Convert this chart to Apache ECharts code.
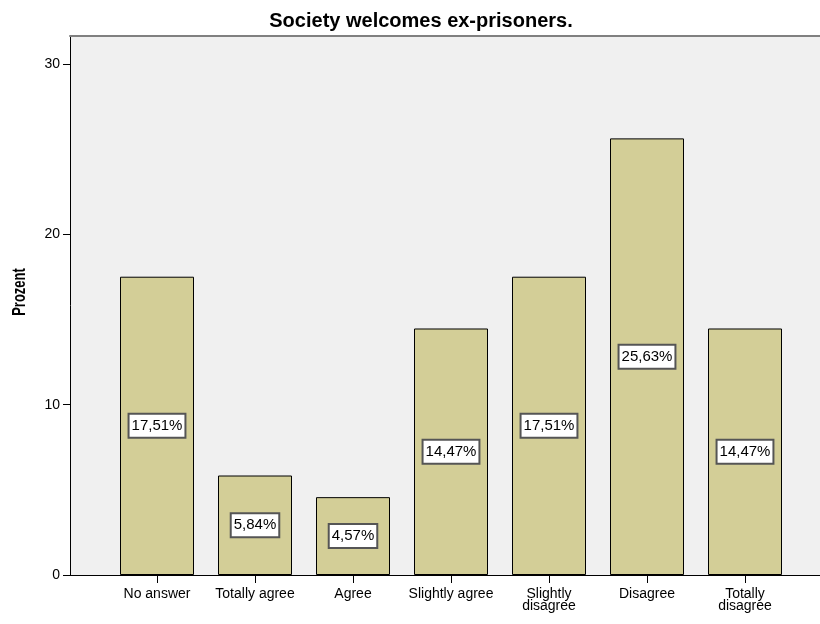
<!DOCTYPE html>
<html>
<head>
<meta charset="utf-8">
<script src="https://cdn.jsdelivr.net/npm/echarts@6/dist/echarts.min.js"></script>
<style>
html,body{margin:0;padding:0;background:#fff;}
#chart{width:820px;height:624px;}
</style>
</head>
<body>
<div id="chart"></div>
<script>
const titleText = 'Society welcomes ex-prisoners.';
const yAxisTitle = 'Prozent';
const categories = ['No answer', 'Totally agree', 'Agree', 'Slightly agree', 'Slightly\ndisagree', 'Disagree', 'Totally\ndisagree'];
const percentValues = [17.51, 5.84, 4.57, 14.47, 17.51, 25.63, 14.47];
const yTickValues = [0, 10, 20, 30];
const yMax = 31.64;

const chart = echarts.init(document.getElementById('chart'), null, {renderer: 'canvas'});
const font = "'Liberation Sans', Arial, sans-serif";

chart.setOption({
  animation: false,
  backgroundColor: '#ffffff',
  title: {
    text: titleText,
    left: 416, top: 6, textAlign: 'center',
    textStyle: {fontFamily: font, fontWeight: 'bold', fontSize: 20, color: '#000'}
  },
  graphic: [{
    type: 'text',
    x: 20, y: 292,
    rotation: Math.PI / 2,
    scaleY: 1.35,
    style: {
      text: yAxisTitle,
      fontFamily: font, fontWeight: 'bold', fontSize: 13,
      fill: '#000', align: 'center', verticalAlign: 'middle'
    }
  }],
  grid: [
    {left: 70, right: 0, top: 36, bottom: 49, show: true, backgroundColor: '#f0f0f0', borderWidth: 0},
    {left: 108, width: 686, top: 36, bottom: 49}
  ],
  xAxis: [
    {gridIndex: 0, type: 'value', min: 0, max: 1, position: 'bottom',
     axisLine: {show: true, onZero: false, lineStyle: {color: '#000', width: 1}},
     axisTick: {show: false}, axisLabel: {show: false}, splitLine: {show: false}},
    {gridIndex: 0, type: 'value', min: 0, max: 1, position: 'top',
     axisLine: {show: true, onZero: false, lineStyle: {color: '#808080', width: 2}},
     axisTick: {show: false}, axisLabel: {show: false}, splitLine: {show: false}},
    {gridIndex: 1, type: 'category', data: categories, boundaryGap: true,
     axisLine: {show: false},
     axisTick: {show: true, alignWithLabel: true, length: 8, lineStyle: {color: '#000', width: 1}},
     axisLabel: {interval: 0, margin: 13, color: '#000', fontFamily: font, fontSize: 14, lineHeight: 12},
     splitLine: {show: false}}
  ],
  yAxis: [
    {gridIndex: 0, type: 'value', min: 0, max: yMax,
     axisLine: {show: true, onZero: false, lineStyle: {color: '#000', width: 1}},
     axisTick: {show: true, length: 7, customValues: yTickValues, lineStyle: {color: '#000'}},
     axisLabel: {customValues: yTickValues, margin: 10, color: '#000', fontFamily: font, fontSize: 14},
     splitLine: {show: false}},
    {gridIndex: 1, type: 'value', min: 0, max: yMax, show: false, splitLine: {show: false}}
  ],
  series: [{
    type: 'bar',
    xAxisIndex: 2, yAxisIndex: 1,
    data: percentValues,
    barWidth: 74,
    itemStyle: {color: '#d3ce97', borderColor: '#000', borderWidth: 1},
    label: {
      show: true, position: 'inside',
      formatter: p => p.value.toFixed(2).replace('.', ',') + '%',
      color: '#000', fontFamily: font, fontSize: 15, lineHeight: 16,
      backgroundColor: '#fff', borderColor: '#555', borderWidth: 2,
      padding: [4, 2, 2, 2]
    }
  }]
});
</script>
</body>
</html>
